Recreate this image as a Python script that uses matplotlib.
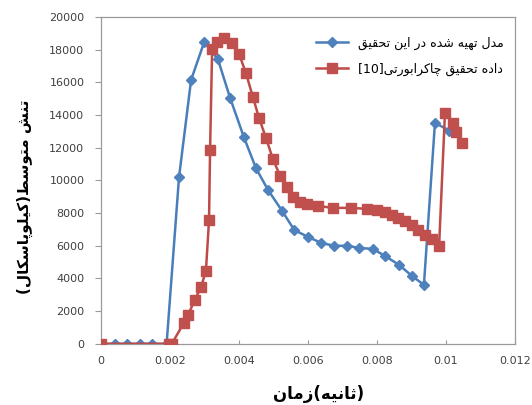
import matplotlib
matplotlib.use('Agg')
from matplotlib import pyplot as plt

# Time (s) and mean stress (kPa) for the model of this work
t_model = [0, 0.0004, 0.00075, 0.00113, 0.00148, 0.0019, 0.00226, 0.00261,
           0.00299, 0.00339, 0.00374, 0.00414, 0.00449, 0.00484, 0.00525,
           0.0056, 0.006, 0.00638, 0.00675, 0.00713, 0.00748, 0.00788,
           0.00823, 0.00864, 0.00901, 0.00936, 0.00968, 0.0101]
s_model = [0, 0, 0, 0, 0, 0, 10200, 16150, 18470, 17400, 15050, 12650,
           10750, 9420, 8130, 6970, 6540, 6180, 6000, 6000, 5870, 5810,
           5380, 4830, 4160, 3610, 13520, 13050]

# Chakraborty data [10]
t_exp = [0, 0.00196, 0.00205, 0.0024, 0.00252, 0.00272, 0.0029, 0.00304,
         0.00313, 0.00316, 0.00322, 0.00336, 0.00357, 0.0038, 0.004,
         0.0042, 0.0044, 0.00458, 0.00478, 0.00498, 0.00519, 0.00539,
         0.00557, 0.00577, 0.00597, 0.00629, 0.00672, 0.00725, 0.00771,
         0.008, 0.00823, 0.00843, 0.00861, 0.00881, 0.00901, 0.00919,
         0.00939, 0.00959, 0.0098, 0.00997, 0.0102, 0.0103, 0.01046]
s_exp = [0, 0, 0, 1280, 1770, 2690, 3490, 4470, 7580, 11870, 18040, 18470,
         18720, 18410, 17740, 16570, 15110, 13820, 12600, 11320, 10280,
         9600, 8990, 8690, 8560, 8440, 8320, 8320, 8260, 8200, 8070, 7890,
         7710, 7520, 7280, 6970, 6670, 6420, 5990, 14130, 13520, 12970,
         12290]

x_ticks = [0, 0.002, 0.004, 0.006, 0.008, 0.01, 0.012]
x_labels = ['0', '0.002', '0.004', '0.006', '0.008', '0.01', '0.012']
y_ticks = list(range(0, 20001, 2000))

# Arabic presentation forms: isolated, final, initial, medial
FORMS = {
    'ا': ('\uFE8D', '\uFE8E', None, None),
    'ب': ('\uFE8F', '\uFE90', '\uFE91', '\uFE92'),
    'پ': ('\uFB56', '\uFB57', '\uFB58', '\uFB59'),
    'ت': ('\uFE95', '\uFE96', '\uFE97', '\uFE98'),
    'ث': ('\uFE99', '\uFE9A', '\uFE9B', '\uFE9C'),
    'ح': ('\uFEA1', '\uFEA2', '\uFEA3', '\uFEA4'),
    'چ': ('\uFB7A', '\uFB7B', '\uFB7C', '\uFB7D'),
    'د': ('\uFEA9', '\uFEAA', None, None),
    'ر': ('\uFEAD', '\uFEAE', None, None),
    'ز': ('\uFEAF', '\uFEB0', None, None),
    'س': ('\uFEB1', '\uFEB2', '\uFEB3', '\uFEB4'),
    'ش': ('\uFEB5', '\uFEB6', '\uFEB7', '\uFEB8'),
    'ط': ('\uFEC1', '\uFEC2', '\uFEC3', '\uFEC4'),
    'ق': ('\uFED5', '\uFED6', '\uFED7', '\uFED8'),
    'ک': ('\uFB8E', '\uFB8F', '\uFB90', '\uFB91'),
    'ل': ('\uFEDD', '\uFEDE', '\uFEDF', '\uFEE0'),
    'م': ('\uFEE1', '\uFEE2', '\uFEE3', '\uFEE4'),
    'ن': ('\uFEE5', '\uFEE6', '\uFEE7', '\uFEE8'),
    'ه': ('\uFEE9', '\uFEEA', '\uFEEB', '\uFEEC'),
    'و': ('\uFEED', '\uFEEE', None, None),
    'ی': ('\uFBFC', '\uFBFD', '\uFBFE', '\uFBFF'),
}


def rtl(text):
    """Join the letters and put them in visual (left to right) order."""
    out = []
    for i, ch in enumerate(text):
        f = FORMS.get(ch)
        if f is None:
            out.append(ch)
            continue
        prev = text[i - 1] if i > 0 else ''
        nxt = text[i + 1] if i + 1 < len(text) else ''
        join_prev = prev in FORMS and FORMS[prev][2] is not None
        join_next = f[2] is not None and nxt in FORMS
        if join_prev and join_next:
            out.append(f[3])
        elif join_prev:
            out.append(f[1])
        elif join_next:
            out.append(f[2])
        else:
            out.append(f[0])
    return ''.join(out)[::-1]


lbl_model = rtl('مدل تهیه شده در این تحقیق')
lbl_exp = '[10]' + rtl('داده تحقیق چاکرابورتی')
ylab = '(' + rtl('کیلوپاسکال') + ')' + rtl('تنش متوسط')
xlab = rtl('زمان') + '(' + rtl('ثانیه') + ')'

blue = '#4A7EBB'
red = '#BE4B48'
grey = '#9A9A9A'

fig = plt.figure(figsize=(5.32, 4.05), dpi=100)
ax = fig.add_axes([0.19, 0.151, 0.778, 0.807])

ax.plot(t_model, s_model, color=blue, lw=1.8, marker='D', ms=5,
        mfc='#4F81BD', mec='#4F81BD', label=lbl_model, zorder=2)
ax.plot(t_exp, s_exp, color=red, lw=1.8, marker='s', ms=6.5,
        mfc='#C0504D', mec='#C0504D', label=lbl_exp, zorder=3)

ax.set_xlim(0, 0.012)
ax.set_ylim(0, 20000)
ax.set_xticks(x_ticks)
ax.set_xticklabels(x_labels)
ax.set_yticks(y_ticks)
ax.tick_params(axis='x', direction='in', length=3, pad=9, colors=grey,
               labelcolor='#404040', labelsize=8)
ax.tick_params(axis='y', direction='out', length=4, pad=8, colors=grey,
               labelcolor='#404040', labelsize=8)
for s in ax.spines.values():
    s.set_color(grey)
    s.set_linewidth(0.9)

ax.set_xlabel(xlab, fontsize=12, fontweight='bold')
ax.set_ylabel(ylab, fontsize=11, fontweight='bold')
ax.xaxis.set_label_coords(0.525, -0.125)
ax.yaxis.set_label_coords(-0.165, 0.45)

leg = ax.legend(loc='upper right', bbox_to_anchor=(0.985, 0.955),
                frameon=False, fontsize=9, handlelength=2.6,
                labelspacing=1.0, borderaxespad=0)

fig.savefig('out.png', dpi=100)
